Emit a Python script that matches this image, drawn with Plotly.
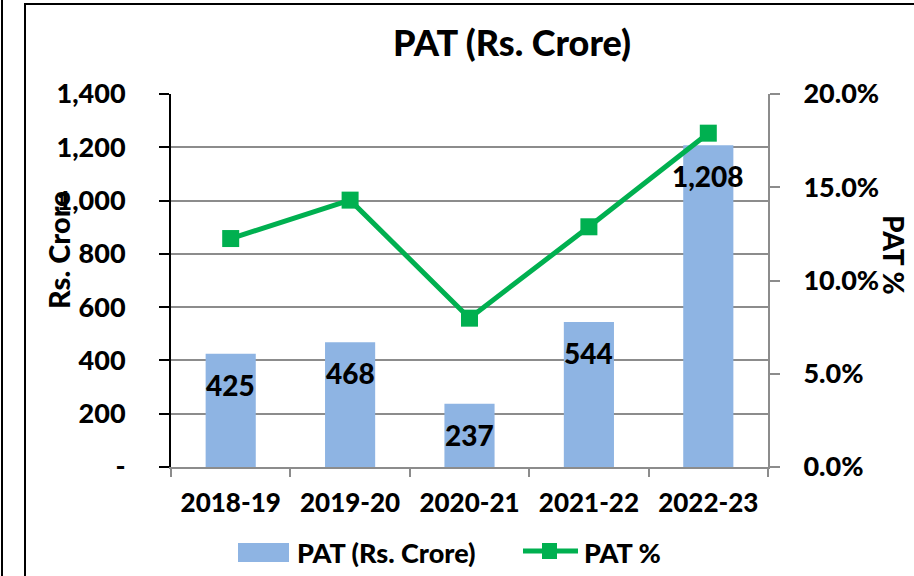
import plotly.graph_objects as go

categories = ["2018-19", "2019-20", "2020-21", "2021-22", "2022-23"]
pat_crore = [425, 468, 237, 544, 1208]
pat_pct = [12.25, 14.31, 7.98, 12.88, 17.90]
left_ticks = [0, 200, 400, 600, 800, 1000, 1200, 1400]
left_tick_text = ["-", "200", "400", "600", "800", "1,000", "1,200", "1,400"]
right_ticks = [0, 5, 10, 15, 20]
right_tick_text = ["0.0%", "5.0%", "10.0%", "15.0%", "20.0%"]

FONT = "Lato"
WT = 900
W, H = 914, 576
L, R, T, B = 171, 146, 94, 109
PW, PH = W - L - R, H - T - B

def px(x):
    return (x - L) / PW

def py(y):
    return (H - B - y) / PH

BAR_C = "#8EB4E3"
LINE_C = "#00B050"

def f(size):
    return dict(family=FONT, size=size, color="black", weight=WT)

fig = go.Figure()
fig.add_trace(go.Bar(x=categories, y=pat_crore, name="PAT (Rs. Crore)",
                     marker=dict(color=BAR_C, line=dict(width=0)),
                     width=0.42, yaxis="y", showlegend=False))
fig.add_trace(go.Scatter(x=categories, y=pat_pct, name="PAT %", yaxis="y2",
                         mode="lines+markers",
                         line=dict(color=LINE_C, width=5),
                         marker=dict(symbol="square", size=17, color=LINE_C),
                         showlegend=False))

annotations = []
for c, v in zip(categories, pat_crore):
    annotations.append(dict(x=c, y=v, xref="x", yref="y", text=f"{v:,}",
                            showarrow=False, yanchor="top", yshift=-12,
                            font=f(28)))

annotations += [
    dict(x=px(512), y=py(42), xref="paper", yref="paper", text="PAT (Rs. Crore)",
         showarrow=False, xanchor="center", yanchor="middle", font=f(36)),
    dict(x=px(59), y=py(250), xref="paper", yref="paper", text="Rs. Crore",
         showarrow=False, textangle=-90, xanchor="center", yanchor="middle", font=f(29)),
    dict(x=px(894), y=py(255), xref="paper", yref="paper", text="PAT %",
         showarrow=False, textangle=90, xanchor="center", yanchor="middle", font=f(28)),
    dict(x=px(295), y=py(552), xref="paper", yref="paper", text="PAT (Rs. Crore)",
         showarrow=False, xanchor="left", yanchor="middle", font=f(27)),
    dict(x=px(582), y=py(552), xref="paper", yref="paper", text="PAT %",
         showarrow=False, xanchor="left", yanchor="middle", font=f(27)),
]

shapes = [
    dict(type="line", xref="paper", yref="paper", x0=px(2), x1=px(2), y0=py(0), y1=py(576),
         line=dict(color="black", width=2)),
    dict(type="rect", xref="paper", yref="paper", x0=px(25), x1=px(930), y0=py(4), y1=py(590),
         line=dict(color="black", width=2), layer="below"),
    dict(type="rect", xref="paper", yref="paper", x0=px(238), x1=px(289), y0=py(543), y1=py(562),
         fillcolor=BAR_C, line=dict(width=0)),
    dict(type="line", xref="paper", yref="paper", x0=px(523), x1=px(578), y0=py(551), y1=py(551),
         line=dict(color=LINE_C, width=5)),
    dict(type="rect", xref="paper", yref="paper", x0=px(542), x1=px(557), y0=py(543), y1=py(559),
         fillcolor=LINE_C, line=dict(width=0)),
]

fig.update_layout(
    width=W, height=H,
    margin=dict(l=L, r=R, t=T, b=B, autoexpand=False),
    paper_bgcolor="white", plot_bgcolor="white",
    annotations=annotations,
    shapes=shapes,
    xaxis=dict(type="category", tickfont=f(26), showgrid=False,
               showline=True, linecolor="#8C8C8C", linewidth=2,
               ticks="outside", ticklen=8, tickcolor="#8C8C8C", tickwidth=2,
               tickson="boundaries", ticklabelstandoff=12),
    yaxis=dict(range=[0, 1400], tickvals=left_ticks, ticktext=left_tick_text,
               tickfont=f(27), showgrid=True, gridcolor="#8C8C8C", gridwidth=2,
               showline=True, linecolor="black", linewidth=2,
               ticks="outside", ticklen=10, tickcolor="black", tickwidth=2,
               ticklabelstandoff=28, zeroline=False),
    yaxis2=dict(range=[0, 20], tickvals=right_ticks, ticktext=right_tick_text,
                overlaying="y", side="right", tickfont=f(27), showgrid=False,
                showline=True, linecolor="#8C8C8C", linewidth=2,
                ticks="outside", ticklen=10, tickcolor="#8C8C8C", tickwidth=2,
                ticklabelstandoff=18, zeroline=False),
)

fig.write_html("out.html", config={"displayModeBar": False},
               post_script="document.body.style.margin='0';")
